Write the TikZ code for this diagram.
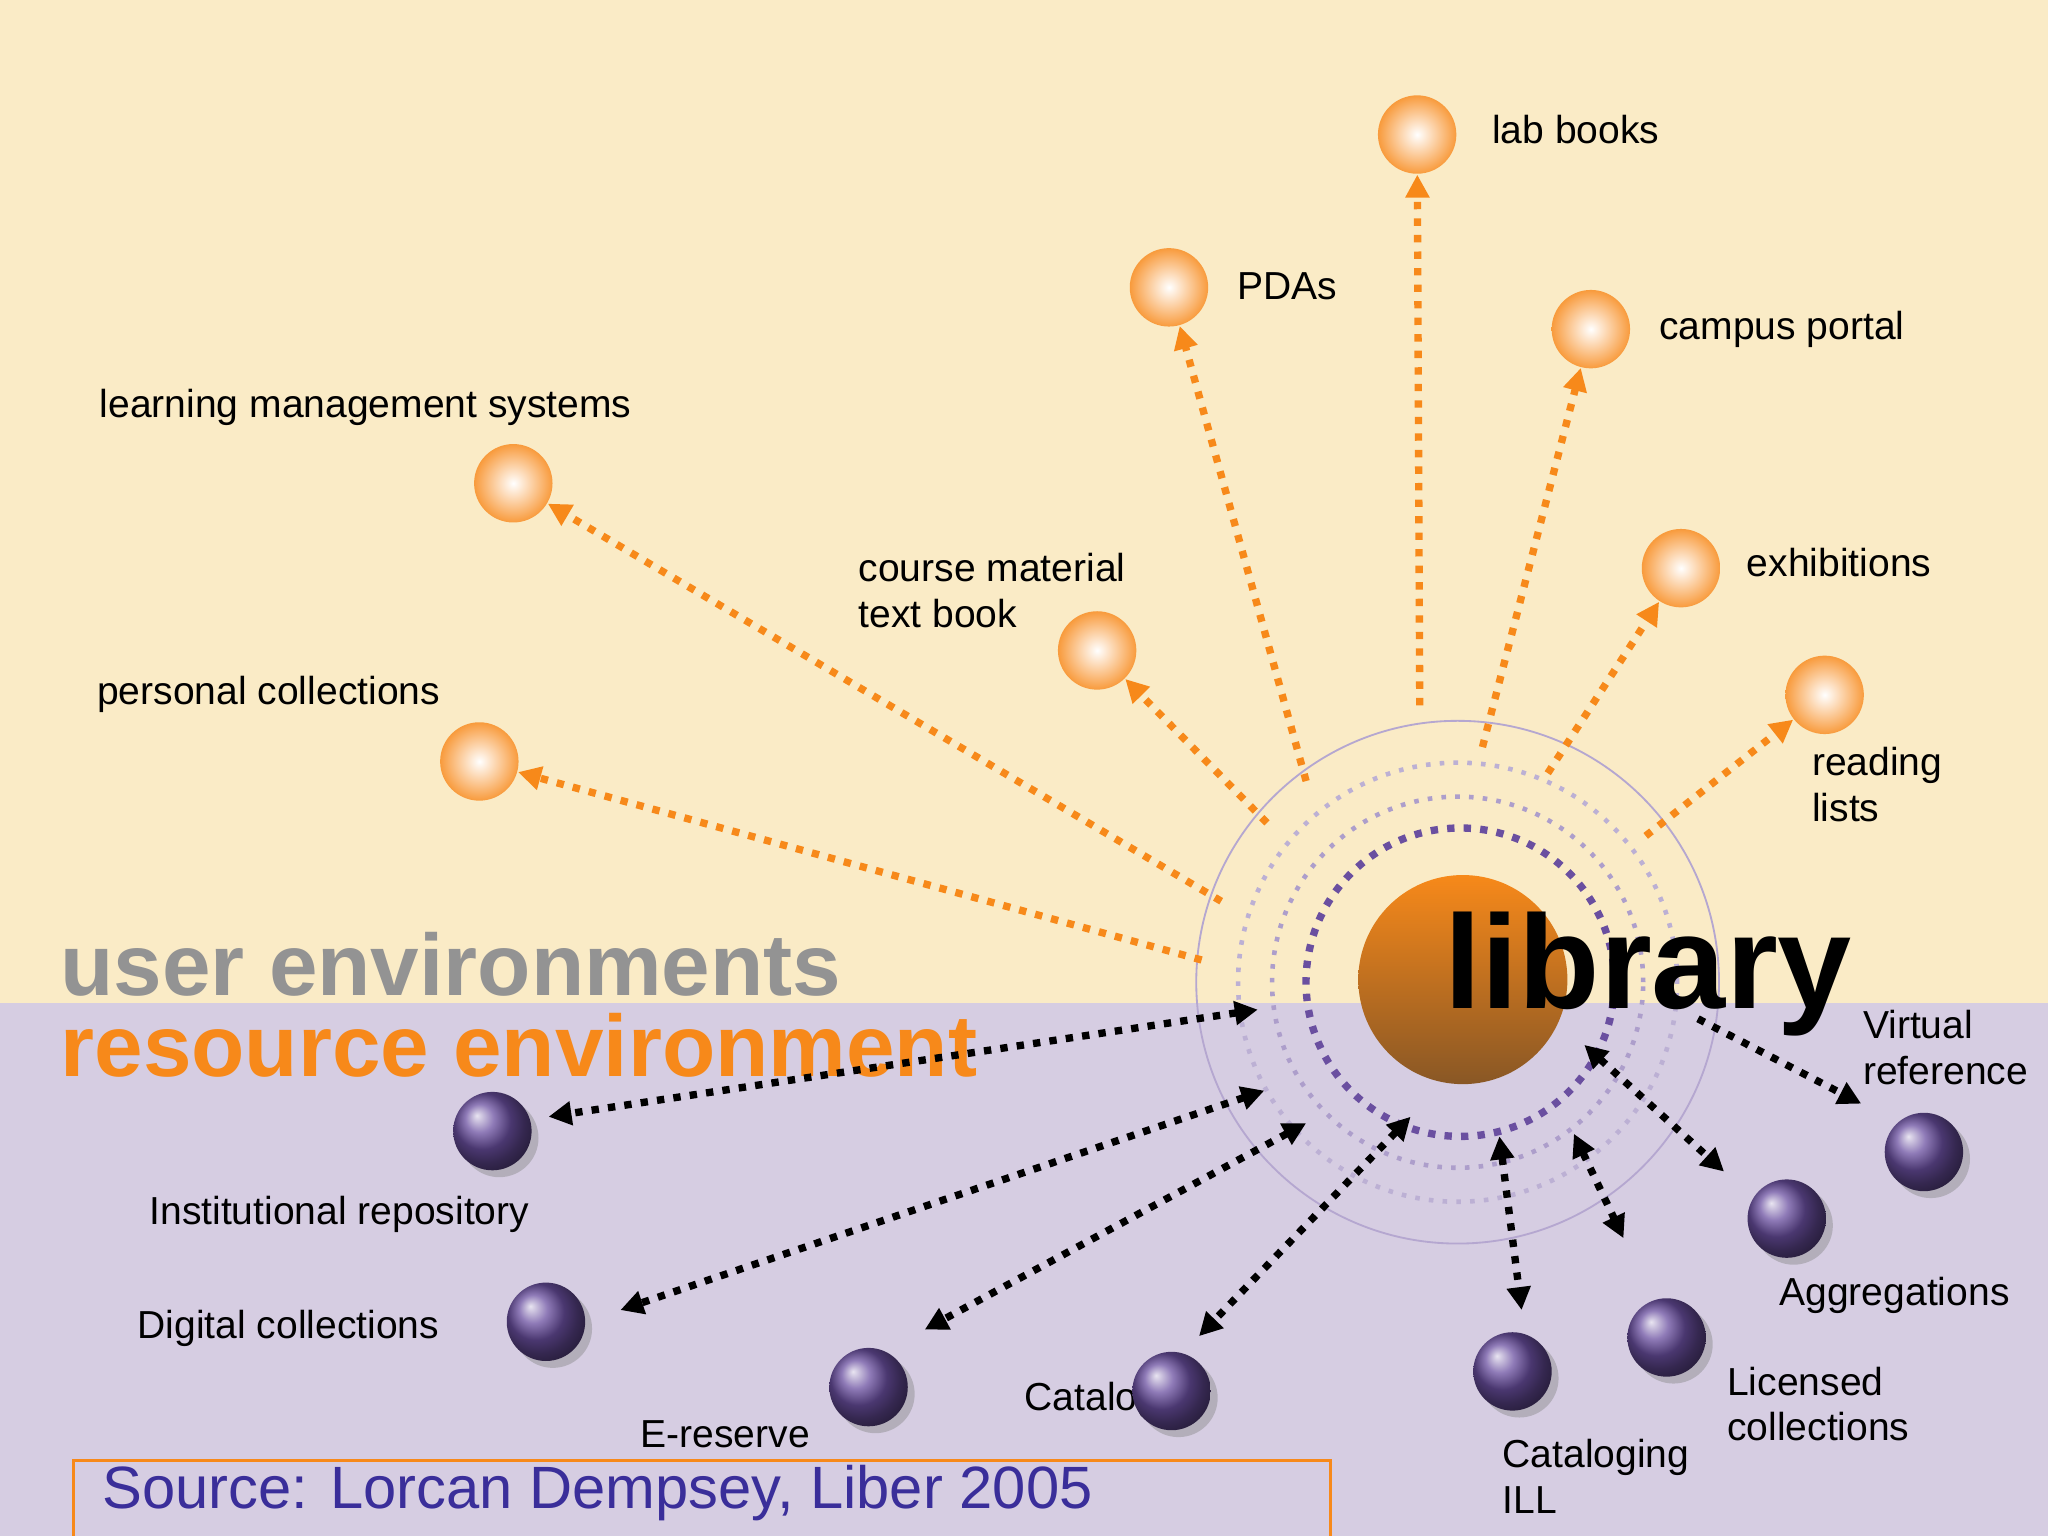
\documentclass[tikz,border=0pt]{standalone}
\usepackage{fontspec}
\setmainfont{Liberation Sans}
\usetikzlibrary{arrows.meta,shadows}
\definecolor{topbg}{HTML}{FAEBC6}
\definecolor{botbg}{HTML}{D6CDE2}
\definecolor{orng}{HTML}{F7891A}
\definecolor{purp}{HTML}{6A4FA0}
\definecolor{srcblue}{HTML}{3A2E9A}
\begin{document}
\begin{tikzpicture}[x=0.01cm,y=-0.01cm,
 onode/.style={circle,minimum size=0.6cm,inner sep=0,inner color=white,outer color=orng!85,draw=none},
 pnode/.style={circle,minimum size=0.6cm,inner sep=0,ball color=purp,draw=none,drop shadow={shadow xshift=1.5pt,shadow yshift=-1.5pt,opacity=0.4}},
 lbl/.style={font=\fontsize{8.5}{10}\selectfont,align=left},
 oarr/.style={orng,line width=1.6pt,dotted,-{Triangle[length=5pt,width=5pt]}},
 barr/.style={black,line width=1.6pt,dotted,{Triangle[length=5pt,width=5pt]}-{Triangle[length=5pt,width=5pt]}},
 ring/.style={purp!70,line width=1pt,dotted}]
\useasboundingbox (0,0) rectangle (1568,1176);
\fill[topbg] (0,0) rectangle (1568,768);
\fill[botbg] (0,768) rectangle (1568,1176);
% rings
\draw[purp!50,line width=0.4pt] (1116,752) circle (2.0cm);
\draw[ring,purp!45] (1116,752) circle (1.68cm);
\draw[ring,purp!55] (1116,752) circle (1.42cm);
\draw[purp,line width=1.6pt,dotted] (1118,752) circle (1.18cm);
% library
\node[circle,minimum size=1.6cm,top color=orng,bottom color=orng!50!black!90,draw=none] (lib) at (1120,750) {};
\node[font=\fontsize{29}{30}\selectfont\bfseries] (libt) at (1262,746) {library};
% orange nodes
\node[onode] (lab) at (1085,103) {};
\node[lbl,anchor=west] (labt) at (1130,99) {lab books};
\node[onode] (pda) at (895,220) {};
\node[lbl,anchor=west] (pdat) at (935,219) {PDAs};
\node[onode] (cp) at (1218,252) {};
\node[lbl,anchor=west] (cpt) at (1258,252) {campus portal};
\node[onode] (lms) at (393,370) {};
\node[lbl,anchor=west] (lmst) at (64,312) {learning management systems};
\node[onode] (cm) at (840,498) {};
\node[lbl,anchor=west] (cmt) at (645,452) {course material\\text book};
\node[onode] (ex) at (1287,435) {};
\node[lbl,anchor=west] (ext) at (1325,431) {exhibitions};
\node[onode] (pc) at (367,583) {};
\node[lbl,anchor=west] (pct) at (62,532) {personal collections};
\node[onode] (rl) at (1397,532) {};
\node[lbl,anchor=west] (rlt) at (1375,601) {reading\\lists};
% orange arrows
\coordinate (a1) at (1087,540); \coordinate (a2) at (1000,598); \coordinate (a3) at (1135,572);
\coordinate (a4) at (935,690); \coordinate (a5) at (970,630); \coordinate (a6) at (1185,592);
\coordinate (a7) at (920,735); \coordinate (a8) at (1260,640);
\draw[oarr] (a1) -- (lab);
\draw[oarr] (a2) -- (pda);
\draw[oarr] (a3) -- (cp);
\draw[oarr] (a4) -- (lms);
\draw[oarr] (a5) -- (cm);
\draw[oarr] (a6) -- (ex);
\draw[oarr] (a7) -- (pc);
\draw[oarr] (a8) -- (rl);
% environment labels
\node[anchor=west,font=\fontsize{19}{20}\selectfont\bfseries,text=gray!85] (ue) at (34,738) {user environments};
\node[anchor=west,font=\fontsize{19}{20}\selectfont\bfseries,text=orng] (re) at (34,800) {resource environment};
% purple nodes
\node[pnode] (ir) at (377,866) {};
\node[lbl,anchor=west] (irt) at (102,930) {Institutional repository};
\node[pnode] (dc) at (418,1012) {};
\node[lbl,anchor=west] (dct) at (93,1017) {Digital collections};
\node[lbl,anchor=west] (catt) at (772,1072) {Catalog};
\node[pnode] (er) at (665,1062) {};
\node[lbl,anchor=west] (ert) at (478,1098) {E-reserve};
\node[pnode] (cat) at (897,1065) {};
\node[pnode] (ill) at (1158,1050) {};
\node[lbl,anchor=west] (illt) at (1138,1130) {Cataloging\\ILL};
\node[pnode] (lic) at (1276,1024) {};
\node[lbl,anchor=west] (lict) at (1310,1075) {Licensed\\collections};
\node[pnode] (agg) at (1368,933) {};
\node[lbl,anchor=west] (aggt) at (1350,992) {Aggregations};
\node[pnode] (vr) at (1473,882) {};
\node[lbl,anchor=west] (vrt) at (1414,802) {Virtual\\reference};
% black arrows
\coordinate (b1s) at (963,773); \coordinate (b1e) at (420,855);
\coordinate (b2s) at (968,835); \coordinate (b2e) at (475,1003);
\coordinate (b3s) at (1000,860); \coordinate (b3e) at (708,1018);
\coordinate (b4s) at (1080,855); \coordinate (b4e) at (918,1023);
\coordinate (b5s) at (1148,870); \coordinate (b5e) at (1165,1003);
\coordinate (b6s) at (1205,868); \coordinate (b6e) at (1243,948);
\coordinate (b7s) at (1213,800); \coordinate (b7e) at (1320,897);
\coordinate (b8s) at (1300,780); \coordinate (b8e) at (1425,845);
\draw[barr] (b1s) -- (b1e);
\draw[barr] (b2s) -- (b2e);
\draw[barr] (b3s) -- (b3e);
\draw[barr] (b4s) -- (b4e);
\draw[barr] (b5s) -- (b5e);
\draw[barr] (b6s) -- (b6e);
\draw[barr] (b7s) -- (b7e);
\draw[black,line width=1.6pt,dotted,-{Triangle[length=5pt,width=5pt]}] (b8s) -- (b8e);
% source
\node[draw=orng,line width=0.6pt,minimum width=9.62cm,minimum height=0.6cm,anchor=north west,inner sep=0] (srcbox) at (55,1117) {};
\node[anchor=west,font=\fontsize{13}{14}\selectfont,text=srcblue] (src) at (66,1143) {Source: Lorcan Dempsey, Liber 2005};
\end{tikzpicture}
\end{document}
